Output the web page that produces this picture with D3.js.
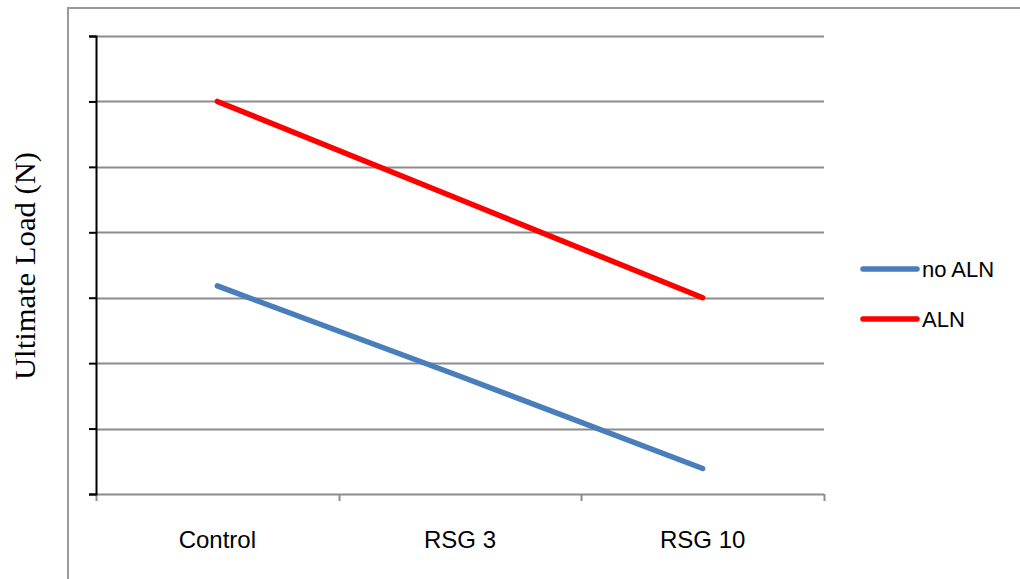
<!DOCTYPE html>
<html>
<head>
<meta charset="utf-8">
<script src="https://cdn.jsdelivr.net/npm/d3@7"></script>
<style>
  html, body { margin: 0; padding: 0; background: #fff; }
  svg { display: block; }
</style>
</head>
<body>
<svg id="chart" width="1020" height="579"></svg>
<script>
// Ultimate load by treatment group, with and without alendronate
const categories = ["Control", "RSG 3", "RSG 10"];
const noAlnValues = [3.18, 1.8, 0.39];
const alnValues = [6.0, 4.5, 3.0];
const seriesNames = ["no ALN", "ALN"];
const seriesColors = ["#4a7ebb", "#ff0000"];
const yTicks = [0, 1, 2, 3, 4, 5, 6, 7];
const yTitle = "Ultimate Load (N)";

const series = [
  { name: seriesNames[0], values: noAlnValues, color: seriesColors[0] },
  { name: seriesNames[1], values: alnValues, color: seriesColors[1] }
];

const svg = d3.select("#chart");
const plot = { left: 96, right: 824, top: 36, bottom: 494 };

// outer chart frame (runs off the right and bottom edges)
svg.append("rect")
  .attr("x", 68).attr("y", 8)
  .attr("width", 1020).attr("height", 620)
  .attr("fill", "none")
  .attr("stroke", "#9a9a9a")
  .attr("stroke-width", 2);

const x = d3.scaleBand().domain(categories).range([plot.left, plot.right]).padding(0);
const y = d3.scaleLinear().domain([0, 7]).range([plot.bottom, plot.top]);

// horizontal gridlines
svg.append("g")
  .selectAll("line")
  .data(yTicks.filter(t => t > 0))
  .join("line")
  .attr("x1", plot.left).attr("x2", plot.right)
  .attr("y1", d => Math.round(y(d)) + 0.5).attr("y2", d => Math.round(y(d)) + 0.5)
  .attr("stroke", "#8c8c8c")
  .attr("stroke-width", 2);

// category axis: baseline and boundary ticks
const xAxis = svg.append("g");
xAxis.append("line")
  .attr("x1", plot.left).attr("x2", plot.right)
  .attr("y1", y(0) + 0.5).attr("y2", y(0) + 0.5)
  .attr("stroke", "#8c8c8c").attr("stroke-width", 2);
const bounds = categories.map(c => x(c)).concat([x(categories[categories.length - 1]) + x.bandwidth()]);
xAxis.selectAll("line.tick")
  .data(bounds)
  .join("line")
  .attr("class", "tick")
  .attr("x1", d => Math.round(d) + 0.5).attr("x2", d => Math.round(d) + 0.5)
  .attr("y1", y(0)).attr("y2", y(0) + 7)
  .attr("stroke", "#8c8c8c").attr("stroke-width", 2);
xAxis.selectAll("text")
  .data(categories)
  .join("text")
  .attr("x", d => x(d) + x.bandwidth() / 2)
  .attr("y", 548)
  .attr("text-anchor", "middle")
  .attr("font-family", "'Liberation Sans', Arial, sans-serif")
  .attr("font-size", 24)
  .attr("fill", "#000")
  .text(d => d);

// value axis without labels
const yAxis = d3.axisLeft(y).tickValues(yTicks).tickSize(7).tickFormat("");
const yg = svg.append("g")
  .attr("transform", `translate(${plot.left},0)`)
  .call(yAxis);
yg.select(".domain").attr("stroke", "#000").attr("stroke-width", 2);
yg.selectAll(".tick line").attr("stroke", "#000").attr("stroke-width", 2);

// axis title
svg.append("text")
  .attr("transform", `translate(35,${266}) rotate(-90)`)
  .attr("text-anchor", "middle")
  .attr("font-family", "'Liberation Serif', 'Times New Roman', serif")
  .attr("font-size", 29)
  .attr("textLength", 228)
  .attr("lengthAdjust", "spacingAndGlyphs")
  .attr("fill", "#000")
  .text(yTitle);

// series lines
const line = d3.line()
  .x((d, i) => x(categories[i]) + x.bandwidth() / 2)
  .y(d => y(d));

svg.append("g")
  .selectAll("path")
  .data(series)
  .join("path")
  .attr("d", d => line(d.values))
  .attr("fill", "none")
  .attr("stroke", d => d.color)
  .attr("stroke-width", 5.5)
  .attr("stroke-linecap", "round")
  .attr("stroke-linejoin", "round");

// legend
const legend = svg.append("g")
  .selectAll("g")
  .data(series)
  .join("g")
  .attr("transform", (d, i) => `translate(863,${269 + i * 50})`);
legend.append("line")
  .attr("x1", 0).attr("x2", 54)
  .attr("y1", 0).attr("y2", 0)
  .attr("stroke", d => d.color)
  .attr("stroke-width", 5.5)
  .attr("stroke-linecap", "round");
legend.append("text")
  .attr("x", 59)
  .attr("y", 8)
  .attr("font-family", "'Liberation Sans', Arial, sans-serif")
  .attr("font-size", 22)
  .attr("fill", "#000")
  .text(d => d.name);
</script>
</body>
</html>
